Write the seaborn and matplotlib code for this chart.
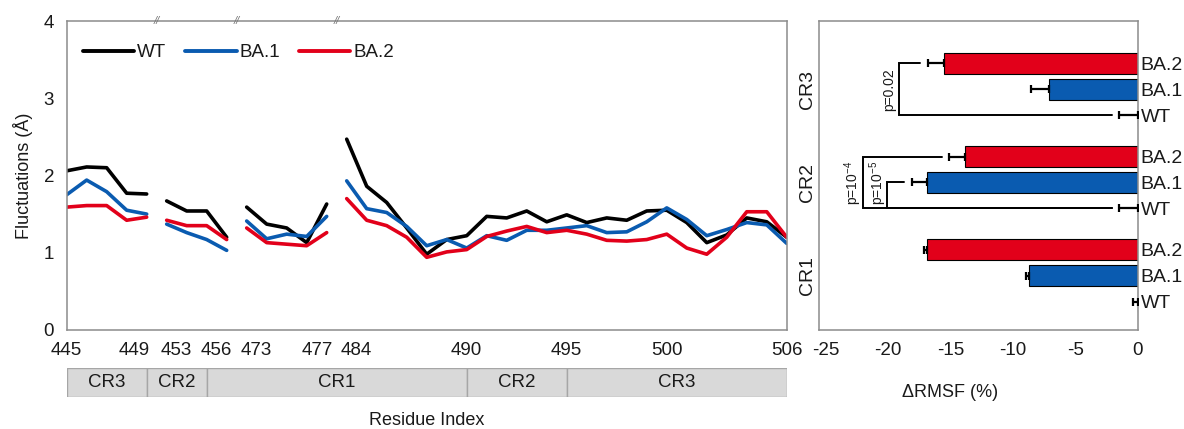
import numpy as np
import pandas as pd
import matplotlib
matplotlib.use("Agg")
import matplotlib.pyplot as plt
import matplotlib.transforms as mtransforms
import seaborn as sns

# ---------------- data ----------------
residues = [445, 446, 447, 448, 449,
            453, 454, 455, 456,
            473, 474, 475, 476, 477,
            484, 485, 486, 487, 488, 489, 490, 491, 492, 493, 494, 495,
            496, 497, 498, 499, 500, 501, 502, 503, 504, 505, 506]
segments = [1] * 5 + [2] * 4 + [3] * 5 + [4] * 23

wt = [2.06, 2.11, 2.10, 1.77, 1.76,
      1.67, 1.54, 1.54, 1.20,
      1.59, 1.37, 1.32, 1.13, 1.63,
      2.47, 1.86, 1.65, 1.32, 0.98, 1.17, 1.22, 1.47, 1.45, 1.54, 1.40, 1.49,
      1.39, 1.45, 1.42, 1.54, 1.55, 1.39, 1.13, 1.23, 1.45, 1.40, 1.20]
ba1 = [1.75, 1.94, 1.79, 1.55, 1.50,
       1.37, 1.26, 1.17, 1.03,
       1.41, 1.18, 1.24, 1.21, 1.47,
       1.93, 1.57, 1.52, 1.34, 1.09, 1.17, 1.06, 1.22, 1.16, 1.29, 1.29, 1.32,
       1.35, 1.26, 1.27, 1.40, 1.58, 1.43, 1.22, 1.30, 1.39, 1.36, 1.12]
ba2 = [1.59, 1.61, 1.61, 1.42, 1.46,
       1.42, 1.35, 1.35, 1.17,
       1.32, 1.13, 1.11, 1.09, 1.26,
       1.70, 1.42, 1.35, 1.20, 0.94, 1.01, 1.04, 1.21, 1.28, 1.34, 1.26, 1.29,
       1.24, 1.16, 1.15, 1.17, 1.24, 1.06, 0.98, 1.20, 1.53, 1.53, 1.20]

variants = ["WT", "BA.1", "BA.2"]
tick_residues = [445, 449, 453, 456, 473, 477, 484, 490, 495, 500, 506]
# horizontal nudge (pixels) of the crowded tick labels around the breaks
tick_nudge = [0, -12, 10, -10, 10, -9, 10, 0, 0, 0, 0]
break_after = [449, 456, 477]

# region annotation strip: labels and the residues bounding them
region_labels = ["CR3", "CR2", "CR1", "CR2", "CR3"]
region_bounds = [445, 449, 455, 490, 495, 506]

# Delta RMSF (%) per core region
cr_regions = ["CR3", "CR2", "CR1"]
drmsf = {
    "WT":   [0.0, 0.0, 0.0],
    "BA.1": [-7.1, -16.9, -8.75],
    "BA.2": [-15.5, -13.8, -16.9],
}
drmsf_err = {
    "WT":   [1.5, 1.5, 0.4],
    "BA.1": [1.45, 1.2, 0.22],
    "BA.2": [1.3, 1.3, 0.2],
}

colors = {"WT": "#000000", "BA.1": "#0a5bb0", "BA.2": "#e2001a"}
grey = "#8c8c8c"
text_col = "#1a1a1a"

# ---------------- style ----------------
sns.set_style("white")
plt.rcParams["font.family"] = ["Liberation Sans", "DejaVu Sans"]
plt.rcParams["axes.unicode_minus"] = False
plt.rcParams["text.color"] = text_col
plt.rcParams["axes.labelcolor"] = text_col
plt.rcParams["xtick.color"] = grey
plt.rcParams["ytick.color"] = grey
plt.rcParams["xtick.labelcolor"] = text_col
plt.rcParams["ytick.labelcolor"] = text_col
plt.rcParams["mathtext.fontset"] = "custom"
plt.rcParams["mathtext.rm"] = "Liberation Sans"
plt.rcParams["mathtext.it"] = "Liberation Sans"

fig = plt.figure(figsize=(11.84, 4.29), dpi=100)

# ---------------- left: per-residue fluctuations ----------------
pos = np.arange(len(residues))
rows = []
for name, vals in zip(variants, [wt, ba1, ba2]):
    for p, r, s, v in zip(pos, residues, segments, vals):
        rows.append({"pos": p, "residue": r, "segment": s, "variant": name, "rmsf": v})
df_line = pd.DataFrame(rows)

ax = fig.add_axes([0.0563, 0.231, 0.6082, 0.720])
sns.lineplot(data=df_line, x="pos", y="rmsf", hue="variant", hue_order=variants,
             units="segment", estimator=None, palette=colors, linewidth=2.6,
             ax=ax, legend=True)
ax.set_xlim(0, len(residues) - 1)
ax.set_ylim(0, 4)
ax.set_yticks([0, 1, 2, 3, 4])
ax.set_xticks([residues.index(r) for r in tick_residues])
ax.set_xticklabels([str(r) for r in tick_residues])
ax.set_xlabel("")
ax.set_ylabel("Fluctuations (Å)", fontsize=13, labelpad=8)
ax.tick_params(axis="both", labelsize=13.5, length=6, width=1, direction="out",
               pad=3)
for lab, dx in zip(ax.get_xticklabels(), tick_nudge):
    lab.set_transform(lab.get_transform()
                      + mtransforms.ScaledTranslation(dx / 100, 0, fig.dpi_scale_trans))
for sp in ax.spines.values():
    sp.set_color(grey)
    sp.set_linewidth(1.1)

# break marks on the top spine
trans_top = mtransforms.blended_transform_factory(ax.transData, ax.transAxes)
for r in break_after:
    xb = residues.index(r) + 0.5
    ax.text(xb, 1.0, "//", transform=trans_top, ha="center", va="center",
            fontsize=8, color="#777777", style="italic")

sns.move_legend(ax, "upper left", ncol=3, frameon=False, title=None,
                fontsize=13.5, handlelength=2.75, handletextpad=0.15,
                columnspacing=1.0, bbox_to_anchor=(0.012, 0.95), borderaxespad=0)
for line in ax.get_legend().get_lines():
    line.set_linewidth(2.8)

# region strip under the residue axis
ax_strip = fig.add_axes([0.0563, 0.0746, 0.6082, 0.0676])
ax_strip.set_xlim(ax.get_xlim())
ax_strip.set_ylim(0, 1)
for lab, a, b in zip(region_labels, region_bounds[:-1], region_bounds[1:]):
    x0 = residues.index(a)
    x1 = residues.index(b)
    ax_strip.barh(0.5, x1 - x0, left=x0, height=1.0, color="#d9d9d9",
                  edgecolor="#a6a6a6", linewidth=1.0)
    ax_strip.text((x0 + x1) / 2, 0.5, lab, ha="center", va="center",
                  fontsize=13.5)
ax_strip.set_xticks([])
ax_strip.set_yticks([])
for sp in ax_strip.spines.values():
    sp.set_visible(False)
ax_strip.set_xlabel("Residue Index", fontsize=13, labelpad=11)

# ---------------- right: Delta RMSF per core region ----------------
bar_rows = []
for name in variants:
    for reg, v, e in zip(cr_regions, drmsf[name], drmsf_err[name]):
        bar_rows.append({"region": reg, "variant": name, "value": v, "err": e})
df_bar = pd.DataFrame(bar_rows)

bar_order = ["BA.2", "BA.1", "WT"]
axr = fig.add_axes([0.692, 0.231, 0.269, 0.720])
sns.barplot(data=df_bar, x="value", y="region", hue="variant", order=cr_regions,
            hue_order=bar_order, palette=colors, orient="h", width=0.834,
            gap=0.19, saturation=1, edgecolor="black", linewidth=0.8,
            errorbar=None, legend=False, ax=axr)
axr.set_xlim(-25.5, 0)
axr.set_ylim(2.58, -0.73)

# bar centres as laid out by seaborn
bars = [p for p in axr.patches if p.get_height() > 0.05]
centres = {}
by_cat = {}
for p in bars:
    yc = p.get_y() + p.get_height() / 2
    by_cat.setdefault(int(round(yc)), []).append(yc)
for ci, reg in enumerate(cr_regions):
    ys = sorted(by_cat[ci])
    for name, yc in zip(bar_order, ys):
        centres[(reg, name)] = yc

# one-sided error bars
for reg_i, reg in enumerate(cr_regions):
    for name in bar_order:
        v = drmsf[name][reg_i]
        e = drmsf_err[name][reg_i]
        axr.errorbar(v, centres[(reg, name)], xerr=[[e], [0]], fmt="none",
                     ecolor="black", elinewidth=1.6, capsize=3.2, capthick=1.6,
                     zorder=3)

# significance brackets
def bracket(reg, top, bottom, xv, label, tx):
    i = cr_regions.index(reg)
    yt = centres[(reg, top)]
    yb = centres[(reg, bottom)]
    end_t = drmsf[top][i] - drmsf_err[top][i] - 0.6
    end_b = drmsf[bottom][i] - drmsf_err[bottom][i] - 0.6
    axr.plot([end_t, xv, xv, end_b], [yt, yt, yb, yb], color="black", lw=1.4,
             solid_joinstyle="miter", zorder=3)
    axr.text(tx, centres[(reg, "BA.1")], label, rotation=90, ha="center",
             va="center", fontsize=10)

bracket("CR3", "BA.2", "WT", -19.15, "p=0.02", -19.9)
bracket("CR2", "BA.2", "WT", -22.0, r"p=10$^{-4}$", -22.8)
bracket("CR2", "BA.1", "WT", -20.05, r"p=10$^{-5}$", -20.8)

# variant labels on the right, region labels on the left
ytick_pos = [centres[(reg, n)] for reg in cr_regions for n in bar_order]
axr.set_yticks(ytick_pos)
axr.set_yticklabels([n for reg in cr_regions for n in bar_order])
axr.yaxis.tick_right()
axr.tick_params(axis="y", length=0, pad=2, labelsize=14)
axr.tick_params(axis="x", length=6, width=1, direction="out", labelsize=13.5,
                pad=3)
axr.set_xticks([-25, -20, -15, -10, -5, 0])
axr.set_ylabel("")
axr.set_xlabel("ΔRMSF (%)", fontsize=13)
axr.xaxis.set_label_coords(0.41, -0.175)
trans_left = mtransforms.blended_transform_factory(axr.transAxes, axr.transData)
for ci, reg in enumerate(cr_regions):
    axr.text(-0.036, ci, reg, rotation=90, ha="center", va="center",
             fontsize=14, transform=trans_left)
for sp in axr.spines.values():
    sp.set_color(grey)
    sp.set_linewidth(1.1)

fig.savefig("out.png", dpi=100)
